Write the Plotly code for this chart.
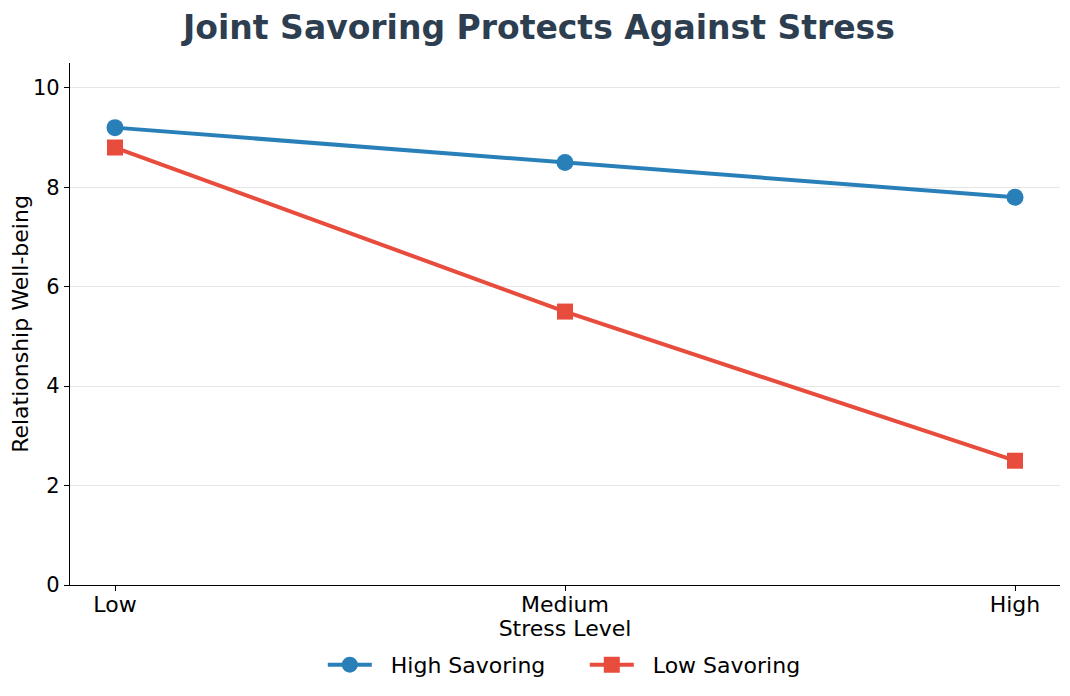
import plotly.graph_objects as go

stress_levels = ["Low", "Medium", "High"]
high_savoring = [9.2, 8.5, 7.8]
low_savoring = [8.8, 5.5, 2.5]
y_ticks = [0, 2, 4, 6, 8, 10]

FONT = "DejaVu Sans"
NB = "\u00a0\u00a0"
fig = go.Figure()
fig.add_trace(go.Scatter(
    x=stress_levels, y=high_savoring, mode="lines+markers", name=NB + "High Savoring",
    line=dict(color="#2980b9", width=4),
    marker=dict(symbol="circle", size=17, color="#2980b9"),
))
fig.add_trace(go.Scatter(
    x=stress_levels, y=low_savoring, mode="lines+markers", name=NB + "Low Savoring",
    line=dict(color="#e74c3c", width=4),
    marker=dict(symbol="square", size=16, color="#e74c3c"),
))
fig.update_layout(
    width=1062, height=688,
    paper_bgcolor="white", plot_bgcolor="white",
    margin=dict(l=62, r=10, t=55, b=111),
    font=dict(family=FONT, color="black"),
    title=dict(text="<b>Joint Savoring Protects Against Stress</b>",
               font=dict(family=FONT, size=33, color="#2c3e50"),
               x=0.5, xanchor="center", y=0.972, yanchor="middle"),
    showlegend=True,
    legend=dict(orientation="h", x=0.52, xanchor="center", y=-0.153, yanchor="middle",
                font=dict(size=22, family=FONT), itemwidth=44,
                entrywidth=203, entrywidthmode="pixels"),
    xaxis=dict(
        type="category", range=[-0.1, 2.1],
        showline=True, linecolor="black", linewidth=1.2, mirror=False,
        ticks="outside", ticklen=5, tickcolor="black", ticklabelstandoff=-6,
        tickfont=dict(size=22, family=FONT),
        title=dict(text="Stress Level", font=dict(size=22, family=FONT), standoff=5),
        showgrid=False, zeroline=False, automargin=False,
    ),
    yaxis=dict(
        range=[0, 10.5], tickvals=y_ticks,
        showline=True, linecolor="black", linewidth=1.2,
        ticks="outside", ticklen=5, tickcolor="black",
        tickfont=dict(size=21, family=FONT),
        title=dict(text="Relationship Well-being", font=dict(size=22, family=FONT), standoff=8),
        showgrid=True, gridcolor="#e6e6e6", gridwidth=1, zeroline=False, automargin=False,
    ),
)
fig.write_html("out.html")
